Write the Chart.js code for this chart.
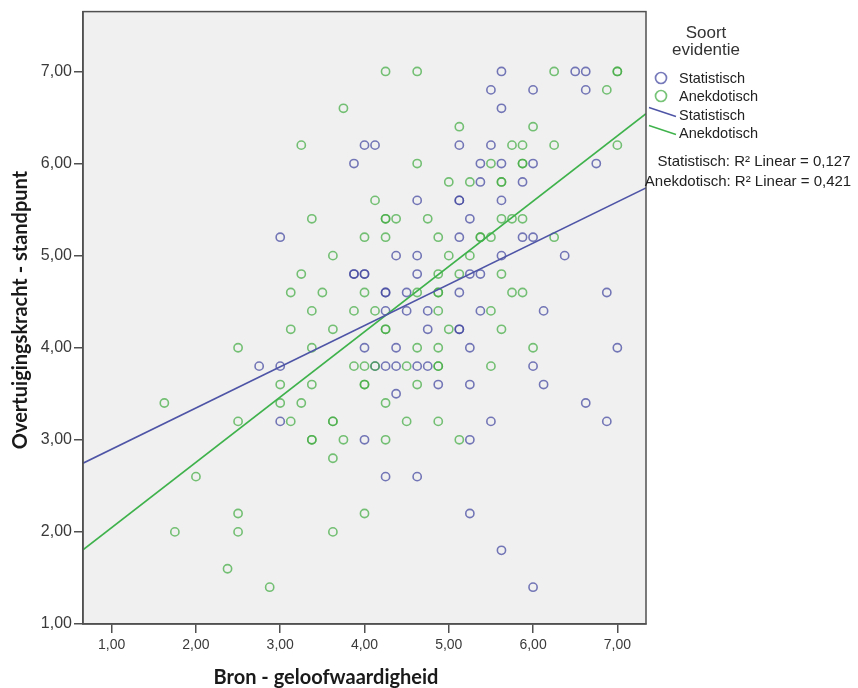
<!DOCTYPE html>
<html><head><meta charset="utf-8">
<script src="https://cdn.jsdelivr.net/npm/chart.js@4"></script>
<style>html,body{margin:0;padding:0;background:#fff}#wrap{width:858px;height:688px}</style>
</head><body><div id="wrap"><canvas id="c" width="858" height="688"></canvas></div>
<script>
// ---- data ----
const seriesNames = ['Statistisch', 'Anekdotisch'];
const legendTitle = ['Soort', 'evidentie'];
const xTitle = 'Bron - geloofwaardigheid';
const yTitle = 'Overtuigingskracht - standpunt';
const xTicks = [1, 2, 3, 4, 5, 6, 7];
const yTicks = [1, 2, 3, 4, 5, 6, 7];
const xRange = [0.66, 7.34];
const yRange = [1, 7.65];

// Statistisch points (x = geloofwaardigheid, y = standpunt)
const statX = [
  5.625, 6.5, 6.625,
  5.5, 6.0, 6.625,
  5.625,
  4.0, 4.125, 5.125, 5.5,
  3.875, 5.375, 5.625, 6.0, 6.75,
  5.375, 5.875,
  4.625, 5.125, 5.125, 5.625,
  5.25,
  3.0, 5.125, 5.875, 6.0,
  4.375, 4.625, 5.625, 6.375,
  3.875, 3.875, 4.0, 4.0, 4.625, 5.25, 5.375,
  4.25, 4.25, 4.5, 5.125, 6.875,
  4.25, 4.5, 4.75, 5.375, 6.125,
  4.75, 5.125, 5.125,
  4.0, 4.375, 5.25, 7.0,
  2.75, 3.0, 4.125, 4.25, 4.375, 4.625, 4.75, 6.0,
  4.875, 5.25, 6.125,
  4.375,
  6.625,
  3.0, 5.5, 6.875,
  4.0, 5.25,
  4.25, 4.625,
  5.25,
  5.625,
  6.0
];
const statY = [
  7.0, 7.0, 7.0,
  6.8, 6.8, 6.8,
  6.6,
  6.2, 6.2, 6.2, 6.2,
  6.0, 6.0, 6.0, 6.0, 6.0,
  5.8, 5.8,
  5.6, 5.6, 5.6, 5.6,
  5.4,
  5.2, 5.2, 5.2, 5.2,
  5.0, 5.0, 5.0, 5.0,
  4.8, 4.8, 4.8, 4.8, 4.8, 4.8, 4.8,
  4.6, 4.6, 4.6, 4.6, 4.6,
  4.4, 4.4, 4.4, 4.4, 4.4,
  4.2, 4.2, 4.2,
  4.0, 4.0, 4.0, 4.0,
  3.8, 3.8, 3.8, 3.8, 3.8, 3.8, 3.8, 3.8,
  3.6, 3.6, 3.6,
  3.5,
  3.4,
  3.2, 3.2, 3.2,
  3.0, 3.0,
  2.6, 2.6,
  2.2,
  1.8,
  1.4
];

// Anekdotisch points
const anekX = [
  4.25, 4.625, 6.25, 7.0, 7.0,
  6.875,
  3.75,
  5.125, 6.0,
  3.25, 5.75, 5.875, 6.25, 7.0,
  4.625, 5.5, 5.875, 5.875,
  5.0, 5.25, 5.625, 5.625,
  4.125,
  3.375, 4.25, 4.25, 4.375, 4.75, 5.625, 5.75, 5.875,
  4.0, 4.25, 4.875, 5.375, 5.375, 5.5, 6.25,
  3.625, 5.0, 5.25,
  3.25, 4.875, 5.125, 5.625,
  3.125, 3.5, 4.0, 4.625, 4.875, 4.875, 5.75, 5.875,
  3.375, 3.875, 4.125, 4.875, 5.5,
  3.125, 3.625, 4.25, 4.25, 5.0, 5.625,
  2.5, 3.375, 4.625, 4.875, 6.0,
  3.875, 4.0, 4.125, 4.5, 4.875, 4.875, 5.5,
  3.0, 3.375, 4.0, 4.0, 4.625,
  1.625, 3.0, 3.25, 4.25,
  2.5, 3.125, 3.625, 3.625, 4.5, 4.875,
  3.375, 3.375, 3.75, 4.25, 5.125,
  3.625,
  2.0,
  2.5, 4.0,
  1.75, 2.5, 3.625,
  2.375,
  2.875
];
const anekY = [
  7.0, 7.0, 7.0, 7.0, 7.0,
  6.8,
  6.6,
  6.4, 6.4,
  6.2, 6.2, 6.2, 6.2, 6.2,
  6.0, 6.0, 6.0, 6.0,
  5.8, 5.8, 5.8, 5.8,
  5.6,
  5.4, 5.4, 5.4, 5.4, 5.4, 5.4, 5.4, 5.4,
  5.2, 5.2, 5.2, 5.2, 5.2, 5.2, 5.2,
  5.0, 5.0, 5.0,
  4.8, 4.8, 4.8, 4.8,
  4.6, 4.6, 4.6, 4.6, 4.6, 4.6, 4.6, 4.6,
  4.4, 4.4, 4.4, 4.4, 4.4,
  4.2, 4.2, 4.2, 4.2, 4.2, 4.2,
  4.0, 4.0, 4.0, 4.0, 4.0,
  3.8, 3.8, 3.8, 3.8, 3.8, 3.8, 3.8,
  3.6, 3.6, 3.6, 3.6, 3.6,
  3.4, 3.4, 3.4, 3.4,
  3.2, 3.2, 3.2, 3.2, 3.2, 3.2,
  3.0, 3.0, 3.0, 3.0, 3.0,
  2.8,
  2.6,
  2.2, 2.2,
  2.0, 2.0, 2.0,
  1.6,
  1.4
];

// linear fit lines: [intercept, slope] and R² labels
const fitStat = [2.451, 0.4475];
const fitAnek = [1.338, 0.709];
const rSquared = ['0,127', '0,421'];

// ---- styling ----
const blueMark = 'rgba(66,70,160,0.72)';
const greenMark = 'rgba(66,172,66,0.72)';
const blueLine = '#4e54a6';
const greenLine = '#3fb24c';
const axisCol = '#505050';
const txtFont = "'Liberation Sans', Arial, sans-serif";
const titleFont = "Lato, 'Liberation Sans', sans-serif";

const fmt = v => v.toFixed(2).replace('.', ',');
const pts = (xs, ys) => xs.map((x, i) => ({ x: x, y: ys[i] }));
const fitPts = f => [xRange[0], xRange[1]].map(x => ({ x: x, y: f[0] + f[1] * x }));

const framePlugin = {
  id: 'frame',
  beforeDraw(chart) {
    const { ctx, chartArea: a } = chart;
    ctx.save();
    ctx.fillStyle = '#f0f0f0';
    ctx.fillRect(a.left, a.top, a.right - a.left, a.bottom - a.top);
    ctx.restore();
  },
  afterDraw(chart) {
    const { ctx, chartArea: a } = chart;
    ctx.save();
    ctx.strokeStyle = axisCol;
    ctx.lineWidth = 1.5;
    ctx.strokeRect(a.left, a.top, a.right - a.left, a.bottom - a.top);

    // axis titles
    ctx.fillStyle = '#1a1a1a';
    ctx.font = 'bold 20px ' + titleFont;
    ctx.textAlign = 'center';
    ctx.textBaseline = 'alphabetic';
    ctx.fillText(xTitle, 326, 684);
    ctx.save();
    ctx.translate(27, 310);
    ctx.rotate(-Math.PI / 2);
    ctx.fillText(yTitle, 0, 0);
    ctx.restore();

    // legend
    ctx.fillStyle = '#333';
    ctx.textAlign = 'center';
    ctx.font = '17px ' + txtFont;
    ctx.fillText(legendTitle[0], 706, 38);
    ctx.fillText(legendTitle[1], 706, 55);

    ctx.textAlign = 'left';
    ctx.textBaseline = 'middle';
    ctx.font = '14.5px ' + txtFont;
    const markCols = [blueMark, greenMark];
    const lineCols = [blueLine, greenLine];
    [78, 96].forEach((yy, i) => {
      ctx.beginPath();
      ctx.arc(661, yy, 5.5, 0, Math.PI * 2);
      ctx.strokeStyle = markCols[i];
      ctx.lineWidth = 1.7;
      ctx.stroke();
      ctx.fillStyle = '#222';
      ctx.fillText(seriesNames[i], 679, yy + 1);
    });
    [116, 134].forEach((yy, i) => {
      ctx.beginPath();
      ctx.moveTo(649, yy - 8.5);
      ctx.lineTo(676, yy + 0.5);
      ctx.strokeStyle = lineCols[i];
      ctx.lineWidth = 1.4;
      ctx.stroke();
      ctx.fillStyle = '#222';
      ctx.fillText(seriesNames[i], 679, yy);
    });
    ctx.textAlign = 'center';
    ctx.font = '15px ' + txtFont;
    ctx.fillText(seriesNames[0] + ': R² Linear = ' + rSquared[0], 754, 162);
    ctx.fillText(seriesNames[1] + ': R² Linear = ' + rSquared[1], 748, 182);
    ctx.restore();
  }
};

new Chart(document.getElementById('c'), {
  type: 'scatter',
  data: {
    datasets: [
      { label: seriesNames[0] + ' fit', data: fitPts(fitStat), showLine: true, pointRadius: 0,
        borderColor: blueLine, borderWidth: 1.6, order: 0 },
      { label: seriesNames[1] + ' fit', data: fitPts(fitAnek), showLine: true, pointRadius: 0,
        borderColor: greenLine, borderWidth: 1.6, order: 0 },
      { label: seriesNames[0], data: pts(statX, statY), pointStyle: 'circle', pointRadius: 4.1,
        borderWidth: 1.6, borderColor: blueMark, backgroundColor: 'rgba(0,0,0,0)', order: 2 },
      { label: seriesNames[1], data: pts(anekX, anekY), pointStyle: 'circle', pointRadius: 4.1,
        borderWidth: 1.6, borderColor: greenMark, backgroundColor: 'rgba(0,0,0,0)', order: 1 }
    ]
  },
  options: {
    responsive: false,
    animation: false,
    events: [],
    layout: { padding: { top: 11, right: 212, left: 0, bottom: 0 } },
    plugins: { legend: { display: false }, tooltip: { enabled: false } },
    scales: {
      x: {
        type: 'linear', min: xRange[0], max: xRange[1],
        afterBuildTicks: s => { s.ticks = xTicks.map(v => ({ value: v })); },
        afterFit: s => { s.height = 64; },
        grid: { drawOnChartArea: false, drawTicks: true, tickLength: 9, color: axisCol, lineWidth: 1.5 },
        border: { color: axisCol, width: 1.5 },
        ticks: { font: { family: txtFont, size: 14 }, color: '#3a3a3a', padding: 4,
                 maxRotation: 0, callback: v => fmt(v) },
        title: { display: false }
      },
      y: {
        type: 'linear', min: yRange[0], max: yRange[1],
        afterBuildTicks: s => { s.ticks = yTicks.map(v => ({ value: v })); },
        afterFit: s => { s.width = 83; },
        grid: { drawOnChartArea: false, drawTicks: true, tickLength: 9, color: axisCol, lineWidth: 1.5 },
        border: { color: axisCol, width: 1.5 },
        ticks: { font: { family: txtFont, size: 16 }, color: '#3a3a3a', padding: 2, callback: v => fmt(v) },
        title: { display: false }
      }
    }
  },
  plugins: [framePlugin]
});
</script>
</body></html>
